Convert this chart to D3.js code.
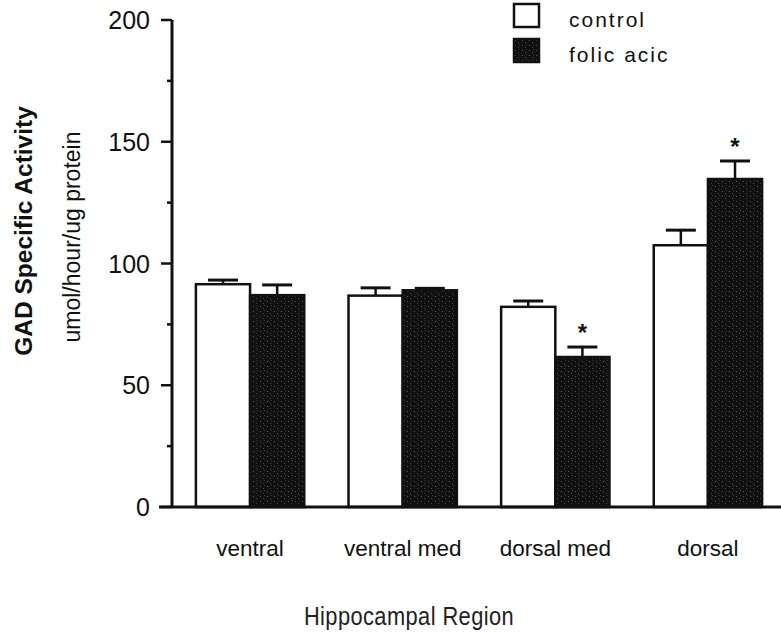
<!DOCTYPE html>
<html lang="en">
  <head>
    <meta charset="UTF-8" />
    <title>GAD Specific Activity by Hippocampal Region</title>
    <script src="https://d3js.org/d3.v7.min.js"></script>
    <style>
      body { margin: 0; background: #fff; }
      text { font-family: "Liberation Sans", Arial, sans-serif; fill: #111; }
    </style>
  </head>
  <body>
    <svg id="chart" width="781" height="638"></svg>

    <script>
      // data
      const regions = ["ventral", "ventral med", "dorsal med", "dorsal"];
      const groups = ["control", "folic acic"];
      const controlVals = [91.5, 86.8, 82.2, 107.5];
      const controlErr = [1.7, 3.2, 2.4, 6.2];
      const folicVals = [87.0, 89.0, 61.6, 134.7];
      const folicErr = [4.2, 0.8, 4.1, 7.4];
      const signif = [false, false, true, true]; // star over folic bar
      const yTicks = [0, 50, 100, 150, 200];

      const svg = d3.select("#chart");
      const width = +svg.attr("width");

      const x0 = 172, yBottom = 507, yTop = 20;

      const x = d3.scaleBand().domain(regions).range([x0 + 1, 785])
        .paddingInner(0.29).paddingOuter(0.15);
      const xs = d3.scaleBand().domain(groups).range([0, x.bandwidth()]);
      const y = d3.scaleLinear().domain([0, 200]).range([yBottom, yTop]);

      // grainy dark fill
      const defs = svg.append("defs");
      const pat = defs.append("pattern").attr("id", "grain")
        .attr("width", 7).attr("height", 5).attr("patternUnits", "userSpaceOnUse");
      pat.append("rect").attr("width", 7).attr("height", 5).attr("fill", "#111");
      pat.append("rect").attr("x", 1).attr("y", 1).attr("width", 1).attr("height", 1).attr("fill", "#555");
      pat.append("rect").attr("x", 4).attr("y", 3).attr("width", 1).attr("height", 1).attr("fill", "#444");
      pat.append("rect").attr("x", 5).attr("y", 0).attr("width", 1).attr("height", 1).attr("fill", "#333");

      const rows = regions.map((r, i) => [
        { region: r, key: groups[0], v: controlVals[i], e: controlErr[i], star: false },
        { region: r, key: groups[1], v: folicVals[i], e: folicErr[i], star: signif[i] },
      ]).flat();

      // error bars (upper only)
      const eb = svg.append("g").attr("stroke", "#111").attr("stroke-width", 2.5);
      rows.forEach((d) => {
        const cx = x(d.region) + xs(d.key) + xs.bandwidth() / 2;
        eb.append("line").attr("x1", cx).attr("x2", cx)
          .attr("y1", y(d.v)).attr("y2", y(d.v + d.e));
        eb.append("line").attr("x1", cx - 15).attr("x2", cx + 15)
          .attr("y1", y(d.v + d.e)).attr("y2", y(d.v + d.e)).attr("stroke-width", 3);
      });

      // bars
      svg.append("g").selectAll("rect").data(rows).join("rect")
        .attr("x", (d) => x(d.region) + xs(d.key))
        .attr("y", (d) => y(d.v))
        .attr("width", xs.bandwidth())
        .attr("height", (d) => y(0) - y(d.v))
        .attr("fill", (d) => (d.key === groups[0] ? "#fff" : "url(#grain)"))
        .attr("stroke", "#111")
        .attr("stroke-width", 2.5);

      // significance stars
      svg.append("g").selectAll("text").data(rows.filter((d) => d.star)).join("text")
        .attr("x", (d) => x(d.region) + xs(d.key) + xs.bandwidth() / 2)
        .attr("y", (d) => y(d.v + d.e) - 6)
        .attr("text-anchor", "middle")
        .style("font-size", "24px")
        .style("font-weight", "bold")
        .text("*");

      // y axis with major + minor ticks
      const yg = svg.append("g").attr("stroke", "#111");
      yg.append("line").attr("x1", x0).attr("x2", x0).attr("y1", y(200)).attr("y2", y(0))
        .attr("stroke-width", 3);
      d3.range(0, 201, 25).forEach((t) => {
        const major = yTicks.includes(t);
        yg.append("line").attr("x1", x0 - (major ? 11 : 5)).attr("x2", x0)
          .attr("y1", y(t)).attr("y2", y(t)).attr("stroke-width", 2.5);
      });
      svg.append("g").selectAll("text").data(yTicks).join("text")
        .attr("x", 150).attr("y", (d) => y(d) + 9)
        .attr("text-anchor", "end")
        .style("font-size", "25px")
        .text((d) => d);

      // baseline
      svg.append("line").attr("x1", 159).attr("x2", width)
        .attr("y1", y(0)).attr("y2", y(0))
        .attr("stroke", "#111").attr("stroke-width", 3);

      // category labels
      svg.append("g").selectAll("text").data(regions).join("text")
        .attr("x", (d) => x(d) + x.bandwidth() / 2)
        .attr("y", 556)
        .attr("text-anchor", "middle")
        .style("font-size", "22.5px")
        .text((d) => d);

      // axis titles
      svg.append("text")
        .attr("transform", "translate(409,625) scale(0.84,1)")
        .attr("text-anchor", "middle")
        .style("font-size", "26px")
        .style("letter-spacing", "0.5px")
        .style("fill", "#222")
        .text("Hippocampal Region");

      svg.append("text")
        .attr("transform", "translate(32,231) rotate(-90)")
        .attr("text-anchor", "middle")
        .style("font-size", "24.5px")
        .style("font-weight", "bold")
        .text("GAD Specific Activity");
      svg.append("text")
        .attr("transform", "translate(80,237) rotate(-90)")
        .attr("text-anchor", "middle")
        .style("font-size", "23px")
        .text("umol/hour/ug protein");

      // legend
      const lg = svg.append("g").attr("transform", "translate(514,4)");
      groups.forEach((g, i) => {
        lg.append("rect").attr("x", 0).attr("y", i * 35)
          .attr("width", 25).attr("height", 23)
          .attr("fill", i === 0 ? "#fff" : "url(#grain)")
          .attr("stroke", "#111").attr("stroke-width", 2.5);
        lg.append("text").attr("x", 55).attr("y", i * 35 + 23)
          .style("font-size", "21px")
          .style("letter-spacing", "2px")
          .text(g);
      });
    </script>
  </body>
</html>
